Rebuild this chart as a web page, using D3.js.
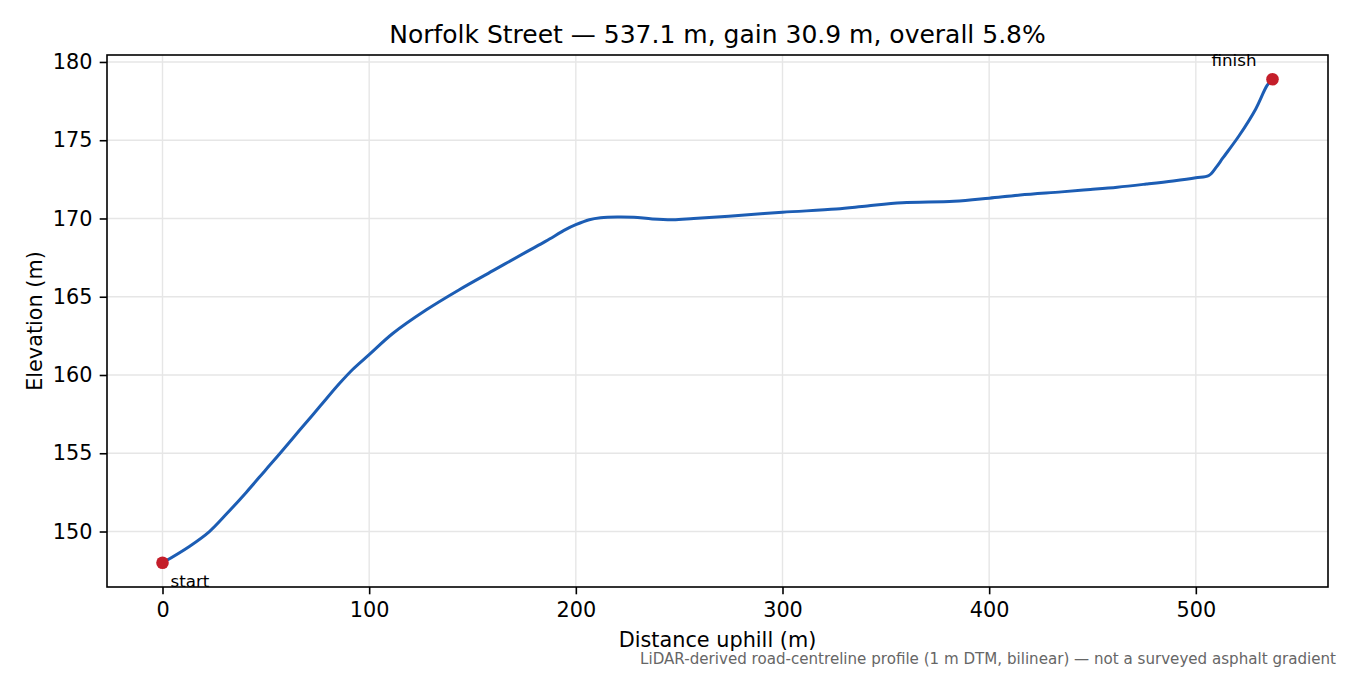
<!DOCTYPE html>
<html lang="en">

<head>
	<meta charset="UTF-8">
	<script src="https://cdn.jsdelivr.net/npm/d3@7"></script>
	<title>Norfolk Street elevation profile</title>
	<style>
		body {
			margin: 0;
			overflow: hidden;
			background: #fff;
			font-family: "DejaVu Sans", sans-serif;
		}

		.tick text {
			font-family: "DejaVu Sans", sans-serif;
			font-size: 20.8px;
			fill: #000;
		}

		.tick line {
			stroke: #000;
			stroke-width: 1.6;
		}

		.grid line {
			stroke: #e6e6e6;
			stroke-width: 1.4;
		}
	</style>
</head>

<body>
	<script>
		// profile: distance along road (m) and elevation (m)
		const distance = [0, 13, 22.7, 30.8, 40.5, 50, 56.6, 66.2, 75.9, 85.6, 92, 100, 111.4, 127.5, 143.6, 159.7,
			175.9, 185.5, 195.2, 200, 206.5, 212, 220, 228, 237, 247, 257, 274, 300, 326, 341, 358, 383, 400,
			415, 435, 449, 462, 476, 489, 500, 506.3, 510, 513, 521, 529, 534.5, 537.1];
		const elevation = [148.0, 149.05, 150.0, 151.1, 152.5, 153.95, 154.95, 156.45, 157.95, 159.45, 160.35, 161.3,
			162.65, 164.15, 165.45, 166.65, 167.85, 168.55, 169.3, 169.6, 169.92, 170.05, 170.1, 170.08, 169.97,
			169.92, 170.0, 170.15, 170.4, 170.6, 170.8, 171.0, 171.1, 171.3, 171.5, 171.7, 171.85, 172.0, 172.2,
			172.4, 172.6, 172.75, 173.3, 173.85, 175.3, 177.0, 178.5, 178.9];

		const xTicks = [0, 100, 200, 300, 400, 500];
		const yTicks = [150, 155, 160, 165, 170, 175, 180];

		const endLabels = ['start', 'finish'];

		const width = 1350, height = 675;
		const margin = { top: 55, right: 22, bottom: 88, left: 107 };
		const innerW = width - margin.left - margin.right;
		const innerH = height - margin.top - margin.bottom;

		const points = distance.map((d, i) => ({ d: d, e: elevation[i] }));
		const total = distance[distance.length - 1];
		const eMin = d3.min(elevation), eMax = d3.max(elevation);
		const gain = eMax - eMin;

		// matplotlib-style 5% padding on both axes
		const xPad = total * 0.05, yPad = gain * 0.05;
		const x = d3.scaleLinear().domain([-xPad, total + xPad]).range([0, innerW]);
		const y = d3.scaleLinear().domain([eMin - yPad, eMax + yPad]).range([innerH, 0]);

		const svg = d3.select('body')
			.append('svg')
			.attr('width', width)
			.attr('height', height);

		const g = svg.append('g')
			.attr('transform', `translate(${margin.left},${margin.top})`);

		// grid
		const grid = g.append('g').attr('class', 'grid');
		grid.selectAll('.gx')
			.data(xTicks)
			.enter()
			.append('line')
			.attr('x1', d => x(d)).attr('x2', d => x(d))
			.attr('y1', 0).attr('y2', innerH);
		grid.selectAll('.gy')
			.data(yTicks)
			.enter()
			.append('line')
			.attr('y1', d => y(d)).attr('y2', d => y(d))
			.attr('x1', 0).attr('x2', innerW);

		// profile line
		const line = d3.line()
			.x(p => x(p.d))
			.y(p => y(p.e))
			.curve(d3.curveCatmullRom.alpha(0.5));

		g.append('path')
			.datum(points)
			.attr('fill', 'none')
			.attr('stroke', '#1c5db4')
			.attr('stroke-width', 3)
			.attr('stroke-linejoin', 'round')
			.attr('d', line);

		// start / finish markers
		const ends = [points[0], points[points.length - 1]];
		g.selectAll('.end')
			.data(ends)
			.enter()
			.append('circle')
			.attr('cx', p => x(p.d))
			.attr('cy', p => y(p.e))
			.attr('r', 6.3)
			.attr('fill', '#c41e2a');

		// axes
		const xAxis = g.append('g')
			.attr('transform', `translate(0,${innerH})`)
			.call(d3.axisBottom(x).tickValues(xTicks).tickSize(7.3).tickPadding(8));
		const yAxis = g.append('g')
			.call(d3.axisLeft(y).tickValues(yTicks).tickSize(7.3).tickPadding(7.3));
		xAxis.select('.domain').remove();
		yAxis.select('.domain').remove();
		xAxis.attr('font-size', null).attr('font-family', null);
		yAxis.attr('font-size', null).attr('font-family', null);

		// frame
		g.append('rect')
			.attr('width', innerW)
			.attr('height', innerH)
			.attr('fill', 'none')
			.attr('stroke', '#000')
			.attr('stroke-width', 1.6);

		// end labels
		g.append('text')
			.attr('x', x(ends[0].d) + 8)
			.attr('y', y(ends[0].e) + 24.5)
			.attr('font-size', 16.7)
			.attr('fill', '#000')
			.text(endLabels[0]);
		g.append('text')
			.attr('x', x(ends[1].d) - 16)
			.attr('y', y(ends[1].e) - 13.5)
			.attr('text-anchor', 'end')
			.attr('font-size', 16.7)
			.attr('fill', '#000')
			.text(endLabels[1]);

		// title and axis labels
		const overall = gain / total * 100;
		svg.append('text')
			.attr('x', margin.left + innerW / 2)
			.attr('y', 42.5)
			.attr('text-anchor', 'middle')
			.attr('font-size', 25)
			.attr('fill', '#000')
			.text(`Norfolk Street \u2014 ${total.toFixed(1)} m, gain ${gain.toFixed(1)} m, overall ${overall.toFixed(1)}%`);

		svg.append('text')
			.attr('x', margin.left + innerW / 2)
			.attr('y', 647)
			.attr('text-anchor', 'middle')
			.attr('font-size', 20.8)
			.attr('fill', '#000')
			.text('Distance uphill (m)');

		svg.append('text')
			.attr('transform', `translate(42,${margin.top + innerH / 2}) rotate(-90)`)
			.attr('text-anchor', 'middle')
			.attr('font-size', 20.8)
			.attr('fill', '#000')
			.text('Elevation (m)');

		svg.append('text')
			.attr('x', 1336)
			.attr('y', 663.5)
			.attr('text-anchor', 'end')
			.attr('font-size', 15.1)
			.attr('fill', '#666')
			.text('LiDAR-derived road-centreline profile (1 m DTM, bilinear) \u2014 not a surveyed asphalt gradient');
	</script>
</body>

</html>
